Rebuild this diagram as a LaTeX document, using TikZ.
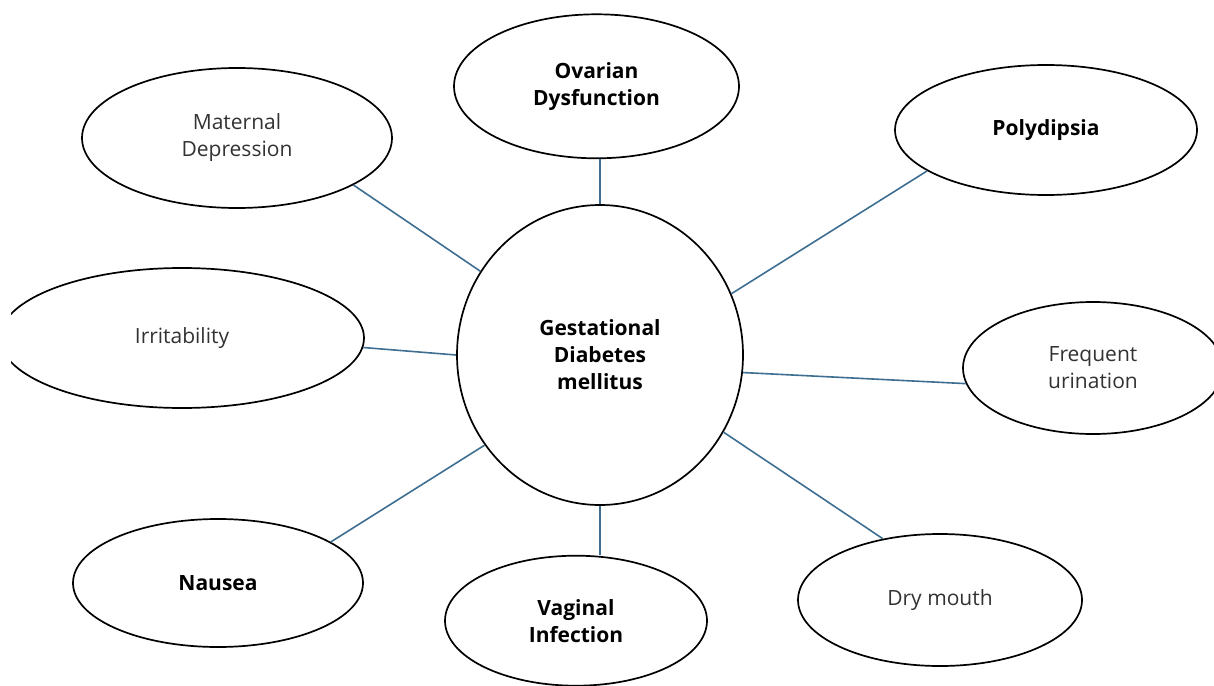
\documentclass[tikz,border=0pt]{standalone}
\usepackage{fontspec}
\setmainfont{Open Sans}
\usepackage{tikz}
\usetikzlibrary{positioning,shapes.geometric}
\definecolor{linkblue}{RGB}{62,110,145}
\definecolor{labelgrey}{RGB}{50,50,50}

\begin{document}
\begin{tikzpicture}[
  x=1pt, y=-1pt,
  node distance=45pt,
  bubble/.style={ellipse, draw=black, line width=1.7pt, inner sep=0pt,
    align=center, font=\fontsize{21}{27}\selectfont},
  plain/.style={bubble, text=labelgrey},
  strong/.style={bubble, font=\fontsize{21}{27}\selectfont\bfseries},
  link/.style={draw=linkblue, line width=1.6pt}
]
\useasboundingbox (0,0) rectangle (1214,685);
\clip (11,0) rectangle (1214,685);
% hub
\node[strong, minimum width=286pt, minimum height=300pt] (cen) at (600,355)
  {Gestational\\Diabetes\\mellitus};
% symptoms around the hub
\node[strong, minimum width=285pt, minimum height=144pt, above=45pt of cen, xshift=-3.5pt] (ova)
  {Ovarian\\Dysfunction};
\node[strong, minimum width=262pt, minimum height=130pt, below=49pt of cen, xshift=-24pt] (vag)
  {Vaginal\\Infection};
\node[plain, minimum width=310pt, minimum height=140pt] (mat) at (237,138) {Maternal\\Depression};
\node[strong, minimum width=302pt, minimum height=130pt] (pol) at (1046,130) {Polydipsia};
\node[plain, minimum width=364pt, minimum height=140pt] (irr) at (182,338) {Irritability};
\node[plain, minimum width=260pt, minimum height=132pt] (fre) at (1093,368) {Frequent\\urination};
\node[strong, minimum width=290pt, minimum height=128pt] (nau) at (218,583) {Nausea};
\node[plain, minimum width=284pt, minimum height=132pt] (dry) at (940,600) {Dry mouth};
% spokes
\draw[link] (cen.north) -- (cen.north |- ova.south);
\draw[link] (mat.-22) -- (cen.145);
\draw[link] (irr.-3) -- (cen.180);
\draw[link] (nau.20) -- (cen.218);
\draw[link] (cen.south) -- (cen.south |- vag.north);
\draw[link] (cen.-32) -- (dry.133);
\draw[link] (cen.-7) -- (fre.187);
\draw[link] (cen.25) -- (pol.199);
\end{tikzpicture}
\end{document}
